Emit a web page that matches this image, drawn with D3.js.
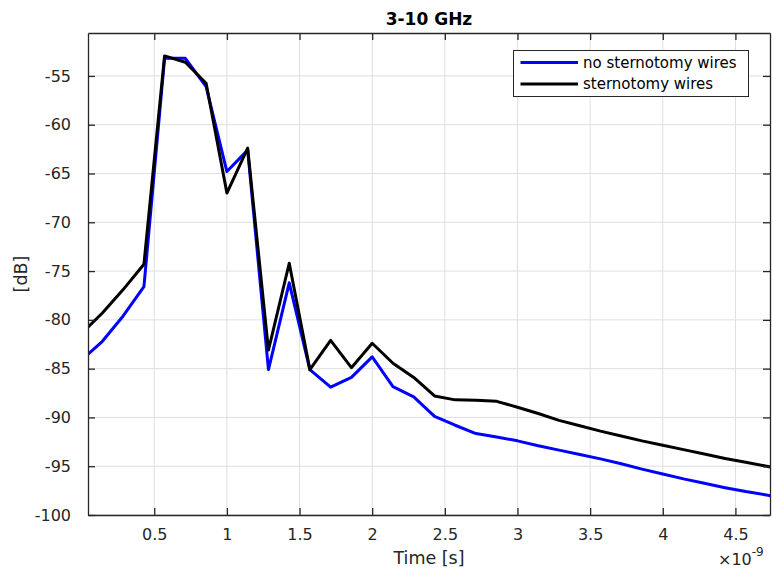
<!DOCTYPE html>
<html>
<head>
<meta charset="utf-8">
<script src="https://cdn.jsdelivr.net/npm/d3@7"></script>
<style>
  body { margin: 0; background: #fff; }
  text { font-family: "DejaVu Sans", sans-serif; fill: #262626; }
</style>
</head>
<body>
<svg id="plot" width="773" height="574"></svg>
<script>
// time samples, in ns (axis shows x10^-9)
const time_ns = [0, 0.143, 0.286, 0.429, 0.571, 0.714, 0.857, 1.0, 1.143, 1.286,
  1.429, 1.571, 1.714, 1.857, 2.0, 2.143, 2.286, 2.429, 2.571, 2.714,
  2.857, 3.0, 3.143, 3.286, 3.429, 3.571, 3.714, 3.857, 4.0, 4.143,
  4.286, 4.429, 4.571, 4.714, 4.857];

// no sternotomy wires (blue)
const no_wires_db = [-84.1, -82.2, -79.6, -76.6, -53.2, -53.2, -56.1, -64.8, -62.6, -85.1,
  -76.2, -85.1, -86.9, -85.9, -83.8, -86.85, -87.9, -89.9, -90.8, -91.65,
  -92.0, -92.4, -92.9, -93.35, -93.8, -94.25, -94.75, -95.3, -95.8, -96.3,
  -96.75, -97.2, -97.6, -97.95, -98.35];

// sternotomy wires (black)
const wires_db = [-81.4, -79.3, -76.9, -74.3, -52.95, -53.6, -55.75, -67.0, -62.4, -83.1,
  -74.2, -85.1, -82.1, -84.9, -82.4, -84.45, -85.9, -87.8, -88.2, -88.25,
  -88.35, -88.95, -89.6, -90.3, -90.85, -91.4, -91.9, -92.4, -92.85, -93.3,
  -93.75, -94.2, -94.6, -95.0, -95.4];

const x_ticks = [0.5, 1, 1.5, 2, 2.5, 3, 3.5, 4, 4.5];
const y_ticks = [-100, -95, -90, -85, -80, -75, -70, -65, -60, -55];
const series_names = ["no sternotomy wires", "sternotomy wires"];
const series_colors = ["#0000ff", "#000000"];

const svg = d3.select('#plot');
const box = { left: 88, right: 770, top: 33, bottom: 515 };
const axis_color = '#262626';

const x = d3.scaleLinear().domain([0.044, 4.738]).range([box.left, box.right]);
const y = d3.scaleLinear().domain([-100, -50.6]).range([box.bottom, box.top]);

svg.append('rect').attr('x', box.left).attr('y', box.top)
  .attr('width', box.right - box.left).attr('height', box.bottom - box.top).attr('fill', '#fff');

// grid
const grid = svg.append('g').attr('stroke', '#dfdfdf').attr('stroke-width', 1);
grid.selectAll('.vx').data(x_ticks).enter().append('line')
  .attr('x1', d => x(d)).attr('x2', d => x(d)).attr('y1', box.top).attr('y2', box.bottom);
grid.selectAll('.hy').data(y_ticks).enter().append('line')
  .attr('x1', box.left).attr('x2', box.right).attr('y1', d => y(d)).attr('y2', d => y(d));

svg.append('clipPath').attr('id', 'clip').append('rect')
  .attr('x', box.left).attr('y', box.top)
  .attr('width', box.right - box.left).attr('height', box.bottom - box.top);

const line = d3.line().x((d, i) => x(time_ns[i])).y(d => y(d));
[no_wires_db, wires_db].forEach((vals, k) => {
  svg.append('path').datum(vals)
    .attr('clip-path', 'url(#clip)')
    .attr('fill', 'none')
    .attr('stroke', series_colors[k])
    .attr('stroke-width', 3)
    .attr('stroke-linejoin', 'round')
    .attr('d', line);
});

// axes: bottom/left with labels, top/right ticks only (box on)
const tick_len = 7;
const xb = svg.append('g').attr('transform', `translate(0,${box.bottom})`)
  .call(d3.axisBottom(x).tickValues(x_ticks).tickFormat(d => String(d))
    .tickSizeInner(-tick_len).tickSizeOuter(0).tickPadding(14));
const xt = svg.append('g').attr('transform', `translate(0,${box.top})`)
  .call(d3.axisTop(x).tickValues(x_ticks).tickSizeInner(-tick_len).tickSizeOuter(0).tickFormat(''));
const yl = svg.append('g').attr('transform', `translate(${box.left},0)`)
  .call(d3.axisLeft(y).tickValues(y_ticks).tickFormat(d => String(d))
    .tickSizeInner(-tick_len).tickSizeOuter(0).tickPadding(17));
const yr = svg.append('g').attr('transform', `translate(${box.right},0)`)
  .call(d3.axisRight(y).tickValues(y_ticks).tickSizeInner(-tick_len).tickSizeOuter(0).tickFormat(''));

[xb, xt, yl, yr].forEach(g => {
  g.select('.domain').attr('stroke', axis_color).attr('stroke-width', 1.3);
  g.selectAll('.tick line').attr('stroke', axis_color).attr('stroke-width', 1.3);
  g.selectAll('.tick text').attr('fill', axis_color)
    .style('font-family', '"DejaVu Sans", sans-serif').style('font-size', '16px');
});

// title and labels
svg.append('text').attr('x', (box.left + box.right) / 2).attr('y', 25)
  .attr('text-anchor', 'middle').style('font-size', '17px').style('font-weight', 'bold')
  .style('fill', '#000').text('3-10 GHz');
svg.append('text').attr('x', (box.left + box.right) / 2).attr('y', 564)
  .attr('text-anchor', 'middle').style('font-size', '17.5px').text('Time [s]');
svg.append('text').attr('transform', 'translate(27,274) rotate(-90)')
  .attr('text-anchor', 'middle').style('font-size', '17.5px').text('[dB]');

// exponent label
const ex = svg.append('text').attr('x', 718).attr('y', 565).style('font-size', '16px');
ex.append('tspan').text('\u00d710');
ex.append('tspan').attr('dy', -9).style('font-size', '12px').text('-9');

// legend
const lg = svg.append('g');
lg.append('rect').attr('x', 513.5).attr('y', 50.5).attr('width', 235).attr('height', 46)
  .attr('fill', '#fff').attr('stroke', axis_color).attr('stroke-width', 1);
series_names.forEach((name, i) => {
  const ly = 62.5 + i * 21.5;
  lg.append('line').attr('x1', 520.5).attr('x2', 578).attr('y1', ly).attr('y2', ly)
    .attr('stroke', series_colors[i]).attr('stroke-width', 3);
  lg.append('text').attr('x', 583).attr('y', ly + 5).style('font-size', '15px')
    .style('fill', '#000').text(name);
});
</script>
</body>
</html>
